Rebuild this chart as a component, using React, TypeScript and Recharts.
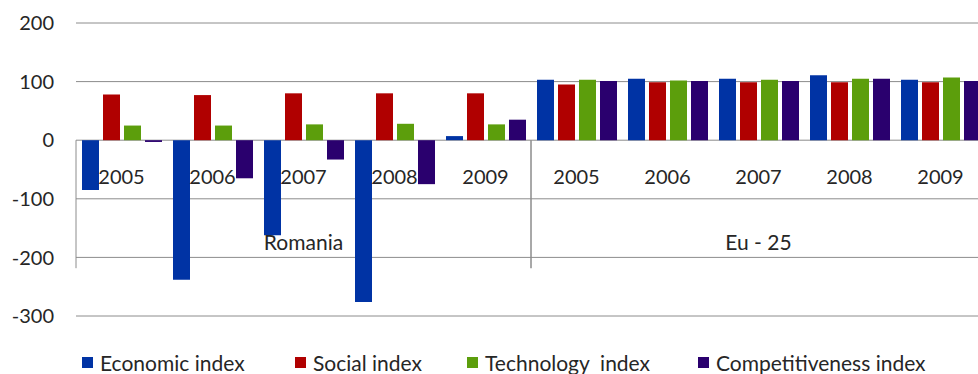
import React from 'react';
import {
  BarChart,
  Bar,
  XAxis,
  YAxis,
  CartesianGrid,
  Legend,
} from 'recharts';

const regions = ['Romania', 'Eu - 25'];
const years = ['2005', '2006', '2007', '2008', '2009'];
const seriesNames = ['Economic index', 'Social index', 'Technology  index', 'Competitiveness index'];

// one value per (region, year), Romania first then Eu - 25
const economic = [-85, -238, -162, -276, 7, 103, 105, 105, 111, 103];
const social = [78, 77, 80, 80, 80, 95, 99, 99, 99, 99];
const technology = [25, 25, 27, 28, 27, 103, 102, 103, 105, 107];
const competitiveness = [-3, -65, -33, -75, 35, 101, 101, 101, 105, 101];

const yTicks = [-300, -200, -100, 0, 100, 200];

const rows = regions.flatMap((region, r) =>
  years.map((year, i) => {
    const k = r * years.length + i;
    return {
      id: `${region} ${year}`,
      region,
      year,
      first: i === 0,
      last: i === years.length - 1,
      economic: economic[k],
      social: social[k],
      technology: technology[k],
      competitiveness: competitiveness[k],
    };
  })
);

const FONT = 'Lato, "Open Sans", sans-serif';
const TEXT = '#262626';
const GRID = '#8c8c8c';

const W = 990;
const H = 374;
const M = { top: 23, right: 4, bottom: 0, left: 0 };
const Y_W = 76;
const X_H = 28;
const LEG_H = 30;
const PLOT_H = H - M.top - M.bottom - X_H - LEG_H;
const PLOT_W = W - M.left - M.right - Y_W;
const Y_MIN = -300;
const Y_MAX = 200;
const zeroY = M.top + (PLOT_H * Y_MAX) / (Y_MAX - Y_MIN);

// legend item widths so the swatches land where the original has them
const legendWidths = [213, 172, 231, 0];

function CategoryTick(props: any) {
  const { x, payload } = props;
  const row = rows.find((r) => r.id === payload.value);
  if (!row) return null;
  const band = PLOT_W / rows.length;
  const left = x - band / 2;
  return (
    <g>
      <text
        x={x}
        y={zeroY + 36}
        textAnchor="middle"
        dominantBaseline="central"
        fontFamily={FONT}
        fontSize={20}
        fill={TEXT}
      >
        {row.year}
      </text>
      {row.first && (
        <>
          <line x1={left} x2={left} y1={zeroY} y2={zeroY + 128} stroke={GRID} />
          <text
            x={left + band * (years.length / 2)}
            y={zeroY + 101}
            textAnchor="middle"
            dominantBaseline="central"
            fontFamily={FONT}
            fontSize={21}
            fill={TEXT}
          >
            {row.region}
          </text>
        </>
      )}
      {row.last && (
        <line x1={x + band / 2} x2={x + band / 2} y1={zeroY} y2={zeroY + 128} stroke={GRID} />
      )}
    </g>
  );
}

function LegendContent({ payload }: any) {
  const items = [...(payload || [])].sort(
    (a: any, b: any) => seriesNames.indexOf(a.value) - seriesNames.indexOf(b.value)
  );
  return (
    <div
      style={{
        display: 'flex',
        alignItems: 'center',
        height: LEG_H,
        paddingLeft: 82,
        fontFamily: FONT,
        fontSize: 21,
        color: TEXT,
      }}
    >
      {items.map((p: any, i: number) => (
        <div
          key={p.value}
          style={{
            display: 'flex',
            alignItems: 'center',
            minWidth: legendWidths[i] || undefined,
            whiteSpace: 'pre',
          }}
        >
          <span
            style={{
              display: 'inline-block',
              width: 11,
              height: 11,
              background: p.color,
              marginRight: 7,
            }}
          />
          {p.value}
        </div>
      ))}
    </div>
  );
}

export default function App() {
  return (
    <div
      style={{
        position: 'fixed',
        top: 0,
        left: 0,
        width: 978,
        height: 374,
        overflow: 'hidden',
        background: '#fff',
      }}
    >
      <BarChart
        width={W}
        height={H}
        data={rows}
        margin={M}
        barCategoryGap={6}
        barGap={4}
      >
        <CartesianGrid vertical={false} stroke={GRID} />
        <XAxis
          dataKey="id"
          height={X_H}
          interval={0}
          axisLine={false}
          tickLine={false}
          tick={<CategoryTick />}
        />
        <YAxis
          width={Y_W}
          domain={[Y_MIN, Y_MAX]}
          ticks={yTicks}
          axisLine={false}
          tickLine={false}
          tickSize={0}
          tickMargin={22}
          tick={{ fontFamily: FONT, fontSize: 20, fill: TEXT }}
        />
        <Legend
          height={LEG_H}
          verticalAlign="bottom"
          wrapperStyle={{ top: 347, left: 0, bottom: 'auto' }}
          content={<LegendContent />}
        />
        <Bar dataKey="economic" name={seriesNames[0]} fill="#0033a4" isAnimationActive={false} />
        <Bar dataKey="social" name={seriesNames[1]} fill="#b00000" isAnimationActive={false} />
        <Bar dataKey="technology" name={seriesNames[2]} fill="#5c9e0c" isAnimationActive={false} />
        <Bar dataKey="competitiveness" name={seriesNames[3]} fill="#2a006e" isAnimationActive={false} />
      </BarChart>
    </div>
  );
}
